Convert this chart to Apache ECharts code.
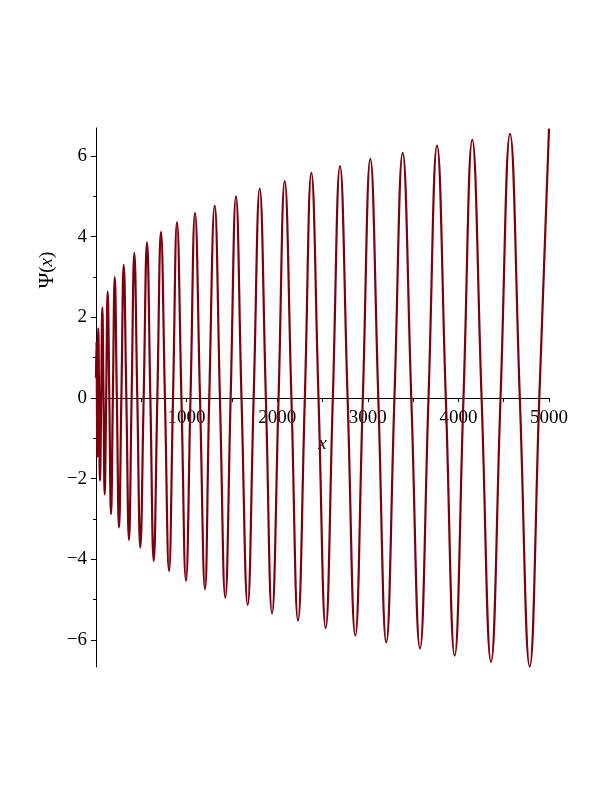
<!DOCTYPE html>
<html>
<head>
<meta charset="utf-8">
<script src="https://cdn.jsdelivr.net/npm/echarts@6/dist/echarts.min.js"></script>
<style>
html,body{margin:0;padding:0;background:#fff;}
#chart{width:615px;height:796px;}
</style>
</head>
<body>
<div id="chart"></div>
<script>
// ---- data ----
const leadX = [0, 5];
const leadY = [0.5, 1.4];
const peakX = [25, 70, 129, 207, 306, 423, 563, 717, 894, 1093, 1310, 1545, 1807, 2083, 2377, 2693, 3028, 3385, 3764, 4153, 4570];
const peakY = [1.73, 2.24, 2.64, 3.00, 3.30, 3.60, 3.86, 4.12, 4.36, 4.59, 4.77, 5.00, 5.19, 5.38, 5.58, 5.75, 5.93, 6.08, 6.26, 6.40, 6.55];
const troughX = [14, 44, 96, 166, 254, 364, 489, 637, 806, 993, 1203, 1427, 1674, 1943, 2230, 2535, 2862, 3204, 3576, 3959, 4360, 4787];
const troughY = [-1.45, -2.05, -2.39, -2.88, -3.21, -3.52, -3.71, -4.04, -4.29, -4.53, -4.74, -4.95, -5.13, -5.34, -5.52, -5.70, -5.89, -6.06, -6.21, -6.39, -6.54, -6.66];
const zeroX = [10, 19, 34, 57, 83, 112, 147, 186, 230, 280, 335, 393, 456, 526, 600, 677, 761, 850, 943, 1043, 1148, 1250, 1368, 1486, 1606, 1740, 1875, 2015, 2157, 2305, 2456, 2614, 2777, 2945, 3116, 3294, 3480, 3670, 3861, 4056, 4256, 4465, 4678, 4893];
const endX = [5000];
const endY = [6.68];

const xTickLabels = [1000, 2000, 3000, 4000, 5000];
const yTickLabels = [-6, -4, -2, 0, 2, 4, 6];
const yMinorTicks = [-5, -3, -1, 1, 3, 5];

// ---- build the series ----
const pts = [];
leadX.forEach((x, i) => pts.push([x, leadY[i]]));
peakX.forEach((x, i) => pts.push([x, peakY[i]]));
troughX.forEach((x, i) => pts.push([x, troughY[i]]));
zeroX.forEach(x => pts.push([x, 0]));
endX.forEach((x, i) => pts.push([x, endY[i]]));
pts.sort((a, b) => a[0] - b[0]);

const FONT = 'Liberation Serif';
const Y_MIN = -6.67, Y_MAX = 6.695;
const GRID_TOP = 128, GRID_BOTTOM = 129, H = 796;
// shift the x axis (line, ticks, labels, name) up to y = 0
const plotH = H - GRID_TOP - GRID_BOTTOM;
const zeroOffset = -Math.round(plotH * (0 - Y_MIN) / (Y_MAX - Y_MIN));

const chart = echarts.init(document.getElementById('chart'), null, {renderer: 'canvas'});
const fmtY = v => (v < 0 ? '\u2212' + Math.abs(v) : String(v));

chart.setOption({
  animation: false,
  backgroundColor: '#ffffff',
  grid: {left: 96, right: 66, top: GRID_TOP, bottom: GRID_BOTTOM, containLabel: false},
  xAxis: {
    type: 'value', min: 0, max: 5000, interval: 1000,
    position: 'bottom', offset: zeroOffset,
    name: 'x', nameLocation: 'middle', nameGap: 36,
    nameTextStyle: {fontFamily: FONT, fontSize: 19, fontStyle: 'italic', color: '#000'},
    axisLine: {onZero: false, lineStyle: {color: '#000', width: 1}},
    axisTick: {show: true, inside: false, length: 4, lineStyle: {color: '#000'}},
    minorTick: {show: true, splitNumber: 2, length: 4, lineStyle: {color: '#000'}},
    axisLabel: {
      fontFamily: FONT, fontSize: 19, color: '#000', margin: 11,
      formatter: v => (xTickLabels.indexOf(v) >= 0 ? String(v) : '')
    },
    splitLine: {show: false}
  },
  yAxis: [{
    type: 'value', min: Y_MIN, max: Y_MAX,
    axisLine: {show: true, onZero: false, lineStyle: {color: '#000', width: 1}},
    axisTick: {show: true, length: 5, customValues: yTickLabels, lineStyle: {color: '#000'}},
    axisLabel: {fontFamily: FONT, fontSize: 19, color: '#000', margin: 9, customValues: yTickLabels, formatter: fmtY},
    splitLine: {show: false}
  }, {
    type: 'value', min: Y_MIN, max: Y_MAX, position: 'left',
    axisLine: {show: false, onZero: false},
    axisTick: {show: true, length: 3, customValues: yMinorTicks, lineStyle: {color: '#000'}},
    axisLabel: {show: false},
    splitLine: {show: false}
  }],
  graphic: [{
    type: 'text', x: 47, y: 270, rotation: Math.PI / 2,
    style: {
      text: '{n|\u03A8}{p|(}{i|x}{p|)}',
      rich: {
        n: {fontFamily: FONT, fontSize: 21, fill: '#000'},
        p: {fontFamily: FONT, fontSize: 19, fill: '#000'},
        i: {fontFamily: FONT, fontSize: 19, fontStyle: 'italic', fill: '#000'}
      },
      align: 'center', verticalAlign: 'middle'
    }
  }],
  series: [{
    type: 'line', xAxisIndex: 0, yAxisIndex: 0,
    data: pts, showSymbol: false, smooth: 0.45, sampling: 'none',
    clip: true,
    lineStyle: {color: '#7a000e', width: 2.2},
    silent: true
  }]
});
</script>
</body>
</html>
